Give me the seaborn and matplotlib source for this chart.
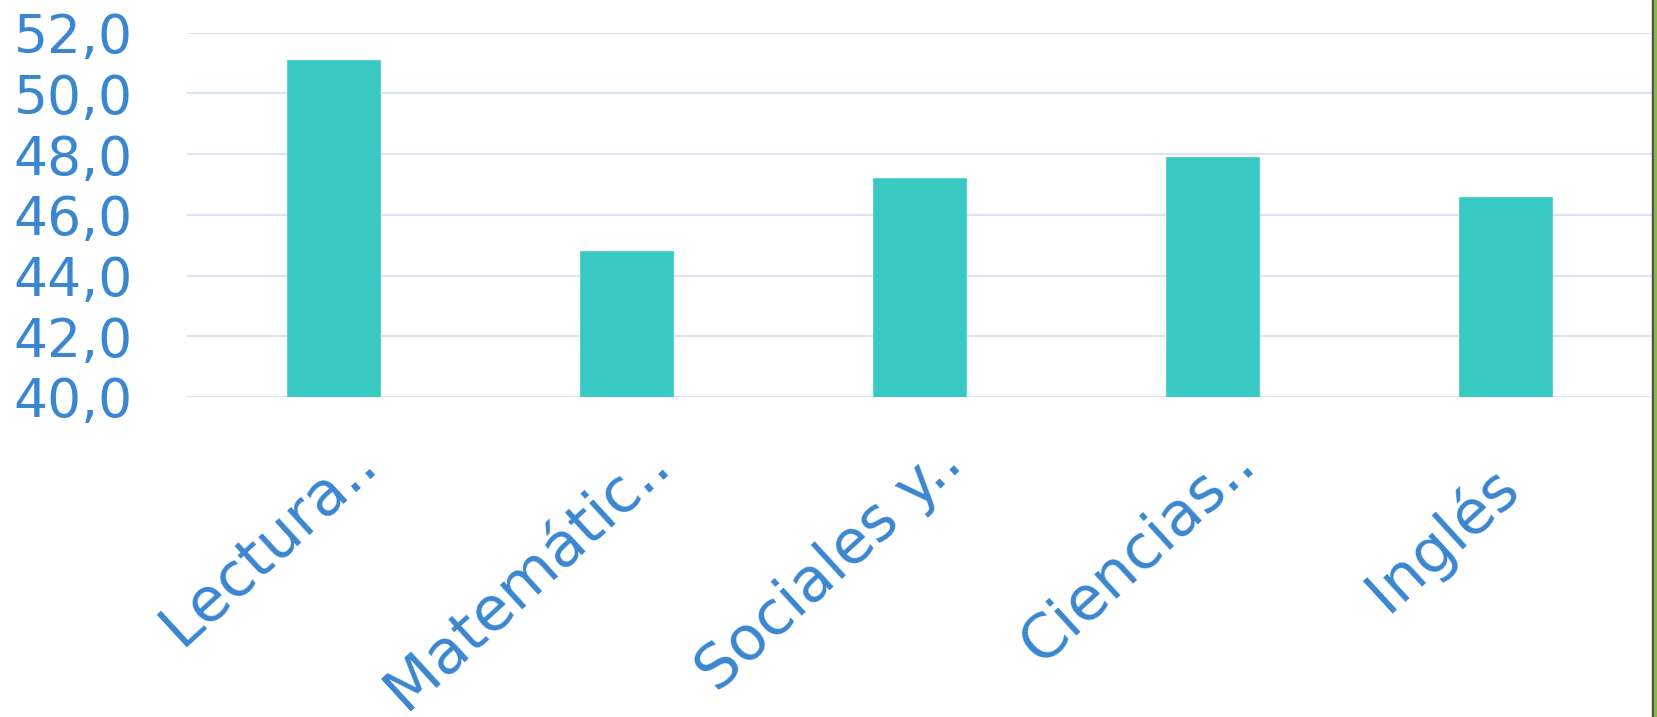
import matplotlib
matplotlib.use("Agg")
import matplotlib.pyplot as plt
import matplotlib.transforms as mtransforms
from matplotlib.patches import Rectangle
import pandas as pd
import seaborn as sns

# Datos
materias = ['Lectura..', 'Matemátic..', 'Sociales y..', 'Ciencias..', 'Inglés']
puntajes = [51.1, 44.8, 47.2, 47.9, 46.6]
y_ticks = [40, 42, 44, 46, 48, 50, 52]

df = pd.DataFrame({'materia': materias, 'puntaje': puntajes})

sns.set_style('white')
plt.rcParams['font.family'] = ['DejaVu Sans']

azul = '#3a86d0'
W, H = 1657, 717
fig = plt.figure(figsize=(W / 100, H / 100), dpi=100)
ax = fig.add_axes([187 / W, 1 - 397 / H, (1652 - 187) / W, (397 - 32.7) / H])

sns.barplot(data=df, x='materia', y='puntaje', color='#38c9c2', width=0.314,
            saturation=1, errorbar=None, edgecolor='#5ed3cd', linewidth=0.8, ax=ax)

ax.set_ylim(40, 52)
ax.set_xlim(-0.5, 4.5)
ax.set_yticks(y_ticks)
ax.set_yticklabels([f'{v:.1f}'.replace('.', ',') for v in y_ticks])
ax.set_xlabel('')
ax.set_ylabel('')
ax.grid(axis='y', color='#dae5f1', linewidth=1.5)
ax.set_axisbelow(True)
for s in ax.spines.values():
    s.set_visible(False)

ax.tick_params(axis='y', length=0, pad=39, labelsize=38.5, labelcolor=azul)
ax.tick_params(axis='x', length=0, pad=50, labelsize=44, labelcolor=azul)

# etiquetas giradas, ancladas al final del texto (ajustes en puntos)
ajustes = [(33, 0), (33, 0), (33, 0), (33, 0), (11.5, -17)]
for lbl, (dx, dy) in zip(ax.get_xticklabels(), ajustes):
    lbl.set_rotation(42.5)
    lbl.set_rotation_mode('anchor')
    lbl.set_ha('right')
    lbl.set_va('baseline')
    lbl.set_transform(lbl.get_transform() +
                      mtransforms.ScaledTranslation(dx / 72, dy / 72, fig.dpi_scale_trans))

# borde derecho de la captura
fig.patches.append(Rectangle((1652 / W, 0), 2 / W, 1, transform=fig.transFigure,
                             color='#4a4a4a', zorder=5))
fig.patches.append(Rectangle((1654 / W, 0), 3 / W, 1, transform=fig.transFigure,
                             color='#8db545', zorder=5))

fig.savefig('out.png', dpi=100)
